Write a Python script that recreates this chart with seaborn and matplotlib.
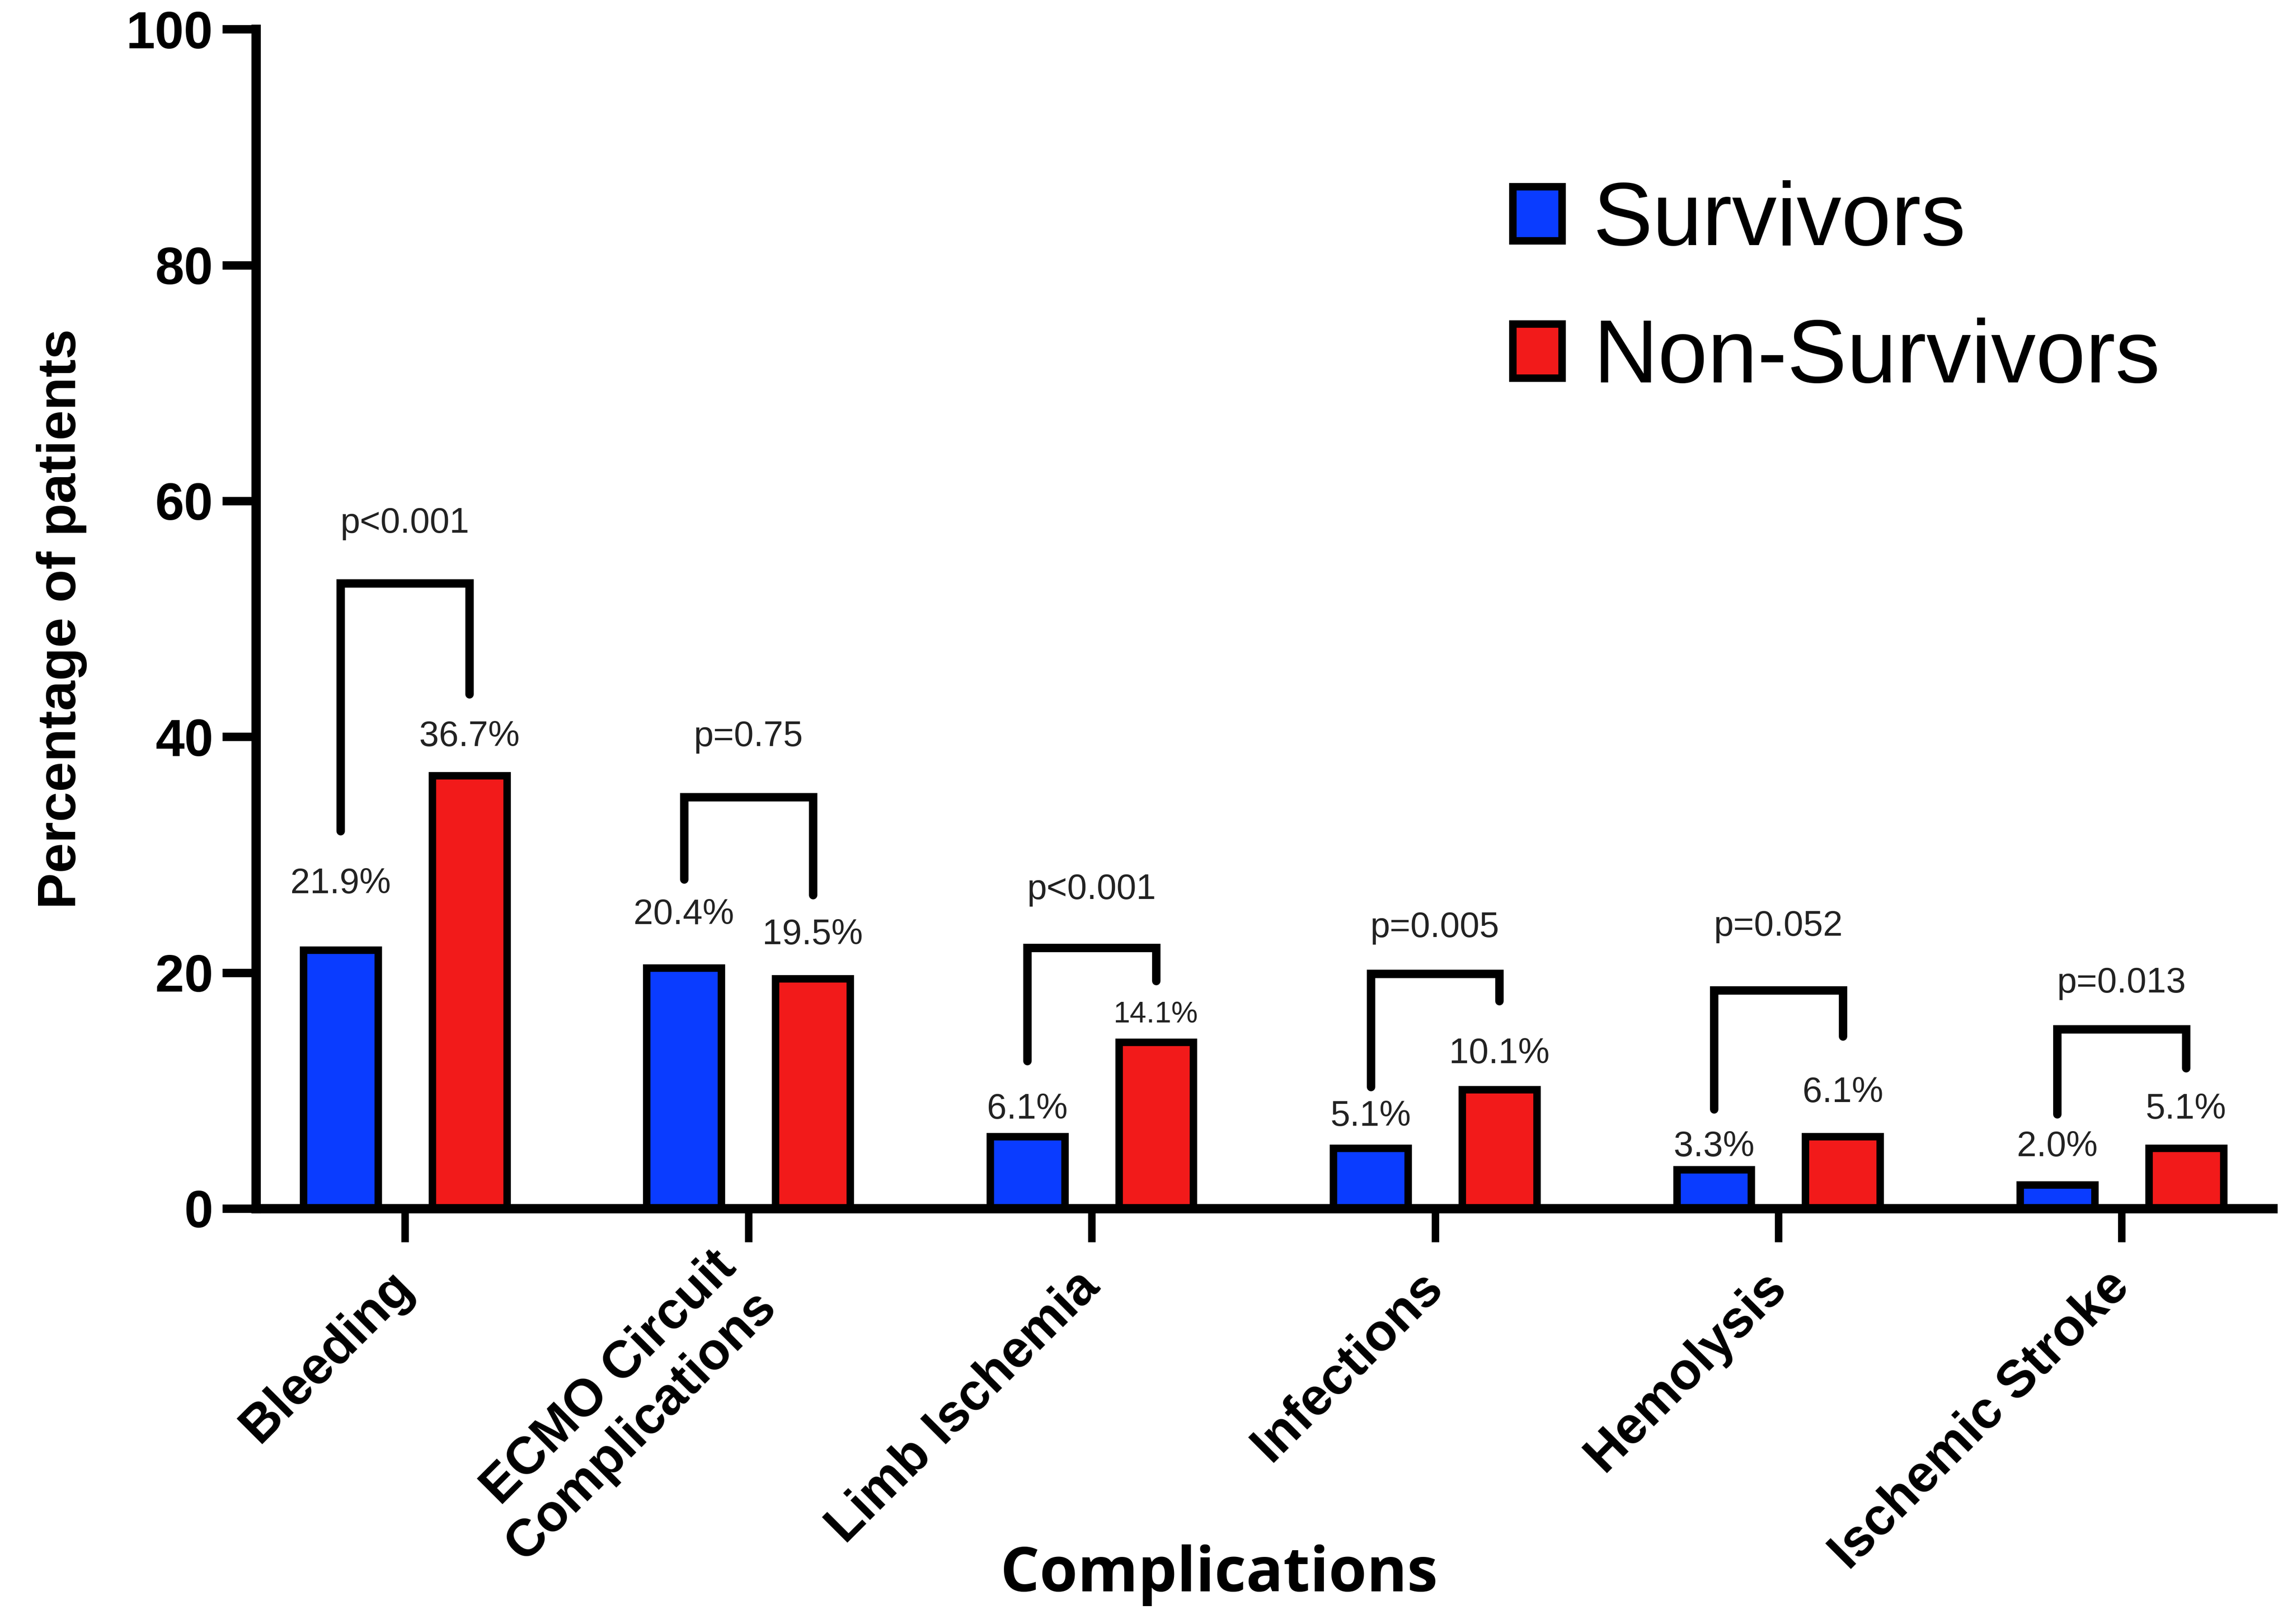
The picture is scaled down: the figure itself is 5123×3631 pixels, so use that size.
import pandas as pd
import seaborn as sns
import matplotlib.pyplot as plt
from matplotlib.patches import Patch

# values (percentage of patients)
complications = ["Bleeding", "ECMO Circuit\nComplications", "Limb Ischemia",
                 "Infections", "Hemolysis", "Ischemic Stroke"]
groups = ["Survivors", "Non-Survivors"]
survivors = [21.9, 20.4, 6.1, 5.1, 3.3, 2.0]
non_survivors = [36.7, 19.5, 14.1, 10.1, 6.1, 5.1]
p_values = ["p<0.001", "p=0.75", "p<0.001", "p=0.005", "p=0.052", "p=0.013"]

# hand placed annotation heights (data units), like in the original figure
surv_label_y = [27.5, 24.9, 8.4, 7.8, 5.2, 5.2]
nonsurv_label_y = [40.0, 23.2, 16.4, 13.1, 9.8, 8.4]
bracket_left_y = [32.0, 27.9, 12.5, 10.3, 8.4, 8.0]
bracket_top_y = [53.0, 34.9, 22.1, 19.9, 18.5, 15.2]
bracket_right_y = [43.6, 26.6, 19.3, 17.6, 14.6, 11.9]
p_label_y = [58.1, 40.0, 27.0, 23.8, 23.9, 19.1]

BLUE = "#0A3CFF"
RED = "#F21A1A"
TXT = "#222222"

sns.set_style("ticks", {"axes.edgecolor": "black", "xtick.color": "black",
                        "ytick.color": "black", "text.color": "black",
                        "axes.labelcolor": "black"})
plt.rcParams["font.family"] = ["Liberation Sans", "DejaVu Sans"]

df = pd.DataFrame({
    "Complication": complications * 2,
    "Group": [groups[0]] * 6 + [groups[1]] * 6,
    "Percent": survivors + non_survivors,
})

fig = plt.figure(figsize=(5123 / 300, 3631 / 300), dpi=300)
ax = fig.add_axes([0.1117, 0.2559, 0.8799, 0.7261])

sns.barplot(data=df, x="Complication", y="Percent", hue="Group",
            palette=[BLUE, RED], saturation=1, edgecolor="black",
            linewidth=4, width=0.75, gap=0.42, errorbar=None,
            legend=False, ax=ax)

ax.set_ylim(0, 100)
ax.set_xlim(-0.434, 5.44)
ax.set_yticks([0, 20, 40, 60, 80, 100])
sns.despine(ax=ax)
for side in ["left", "bottom"]:
    ax.spines[side].set_linewidth(5)
    ax.spines[side].set_color("black")
ax.tick_params(axis="y", length=18, width=4.5, pad=5, labelsize=28, colors="black")
ax.tick_params(axis="x", length=18, width=4, pad=20, labelsize=28, colors="black")
for lab in ax.get_yticklabels():
    lab.set_fontweight("bold")
ax.set_xticks(range(len(complications)))
ax.set_xticklabels(complications, rotation=45, ha="right", va="center",
                   rotation_mode="anchor", fontweight="bold", fontsize=28)

# value labels and significance brackets
blue_bars = ax.containers[0]
red_bars = ax.containers[1]
for i in range(len(complications)):
    b = blue_bars[i]
    r = red_bars[i]
    xb = b.get_x() + b.get_width() / 2
    xr = r.get_x() + r.get_width() / 2
    ax.text(xb, surv_label_y[i], f"{survivors[i]:.1f}%", ha="center",
            va="center", fontsize=19, color=TXT)
    ax.text(xr, nonsurv_label_y[i], f"{non_survivors[i]:.1f}%", ha="center",
            va="center", fontsize=16 if i == 2 else 19, color=TXT)
    ax.plot([xb, xb, xr, xr],
            [bracket_left_y[i], bracket_top_y[i], bracket_top_y[i], bracket_right_y[i]],
            color="black", lw=4.5, solid_capstyle="round",
            solid_joinstyle="miter", clip_on=False)
    ax.text((xb + xr) / 2, p_label_y[i], p_values[i], ha="center",
            va="center", fontsize=19, color=TXT)

ax.set_ylabel("Percentage of patients", fontsize=29, fontweight="bold")
ax.yaxis.set_label_coords(-0.0964, 0.5)
ax.yaxis.label.set_va("center")
ax.set_xlabel("Complications", fontsize=33, fontweight="bold",
              fontfamily=["Open Sans", "DejaVu Sans"])
ax.xaxis.set_label_coords(0.4775, -0.311)
ax.xaxis.label.set_va("center")

handles = [Patch(facecolor=BLUE, edgecolor="black", linewidth=4),
           Patch(facecolor=RED, edgecolor="black", linewidth=4)]
fig.legend(handles, groups, loc="upper left", bbox_to_anchor=(0.660, 0.889),
           frameon=False, fontsize=48, handlelength=0.55, handleheight=0.55,
           handletextpad=0.35, labelspacing=0.6, borderpad=0,
           borderaxespad=0)

fig.savefig("out.png", dpi=300, facecolor="white")
